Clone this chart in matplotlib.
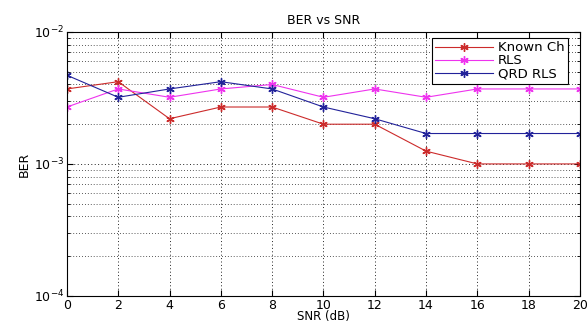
import matplotlib
matplotlib.use("Agg")
import matplotlib.pyplot as plt
from matplotlib.ticker import LogLocator, NullFormatter

snr = [0, 2, 4, 6, 8, 10, 12, 14, 16, 18, 20]
known_ch = [3.7e-3, 4.2e-3, 2.2e-3, 2.7e-3, 2.7e-3, 2.0e-3, 2.0e-3, 1.25e-3, 1.0e-3, 1.0e-3, 1.0e-3]
rls = [2.7e-3, 3.7e-3, 3.2e-3, 3.7e-3, 4.0e-3, 3.2e-3, 3.7e-3, 3.2e-3, 3.7e-3, 3.7e-3, 3.7e-3]
qrd_rls = [4.7e-3, 3.2e-3, 3.7e-3, 4.2e-3, 3.7e-3, 2.7e-3, 2.2e-3, 1.7e-3, 1.7e-3, 1.7e-3, 1.7e-3]
labels = ["Known Ch", "RLS", "QRD RLS"]
xticks = [0, 2, 4, 6, 8, 10, 12, 14, 16, 18, 20]

plt.rcParams['font.family'] = ['DejaVu Sans']
plt.rcParams['font.size'] = 9
plt.rcParams['mathtext.default'] = 'regular'

fig = plt.figure(figsize=(5.87, 3.23), dpi=100)
ax = fig.add_axes([0.114, 0.084, 0.874, 0.817])

ast = (6, 2, 0)
ax.plot(snr, known_ch, color='#cc2b2b', marker=ast, markersize=6, markeredgewidth=1.0,
        linewidth=0.8, label=labels[0])
ax.plot(snr, rls, color='#ee33ee', marker=ast, markersize=6, markeredgewidth=1.0,
        linewidth=0.8, label=labels[1])
ax.plot(snr, qrd_rls, color='#22229a', marker=ast, markersize=6, markeredgewidth=1.0,
        linewidth=0.8, label=labels[2])

ax.set_yscale('log')
ax.set_ylim(1e-4, 1e-2)
ax.set_xlim(0, 20)
ax.set_xticks(xticks)
ax.yaxis.set_major_locator(LogLocator(base=10, numticks=10))
ax.yaxis.set_minor_locator(LogLocator(base=10, subs=range(2, 10), numticks=50))
ax.yaxis.set_minor_formatter(NullFormatter())

grid_ls = (0, (1, 2.5))
ax.grid(True, which='major', axis='both', linestyle=grid_ls, color='#222222', linewidth=0.7)
ax.grid(True, which='minor', axis='y', linestyle=grid_ls, color='#222222', linewidth=0.6)

ax.tick_params(which='both', direction='in', top=True, right=True, labelsize=9)
ax.tick_params(which='major', length=4, pad=2)
ax.tick_params(which='minor', length=2)

ax.set_title("BER vs SNR", fontsize=9, pad=6)
ax.set_xlabel("SNR (dB)", fontsize=8.5, labelpad=-1)
ax.set_ylabel("BER", fontsize=9, labelpad=2)

leg = ax.legend(loc='upper right', bbox_to_anchor=(0.977, 0.977), fancybox=False,
                framealpha=1, edgecolor='black', fontsize=9.5, handlelength=4.4,
                handletextpad=0.4, borderpad=0.25, labelspacing=0.0, borderaxespad=0)
leg.get_frame().set_linewidth(0.8)

for s in ax.spines.values():
    s.set_linewidth(0.8)

fig.savefig("out.png", dpi=100)
